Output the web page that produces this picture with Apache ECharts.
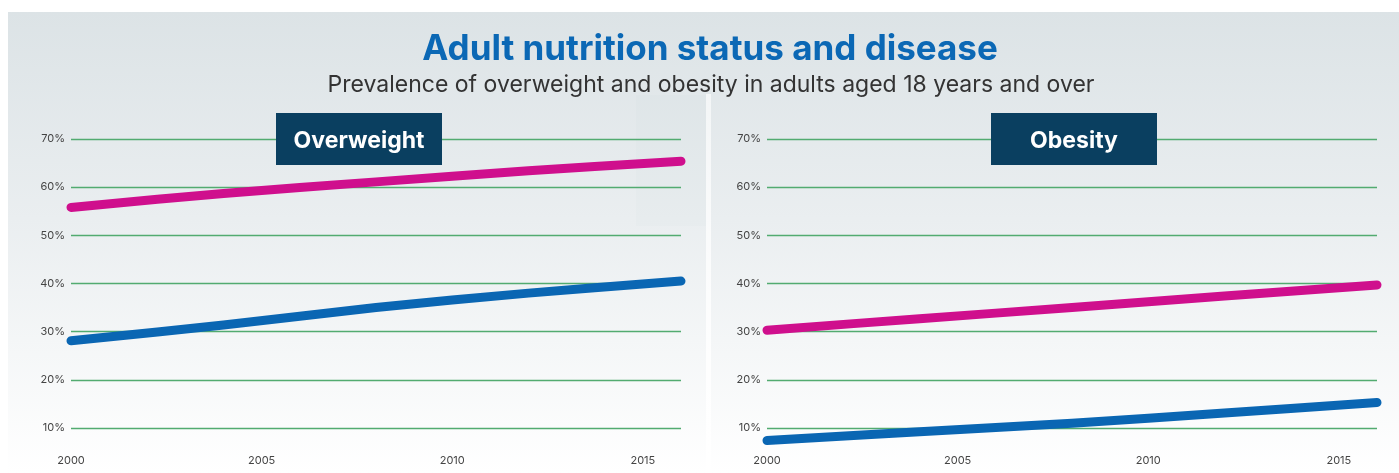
<!DOCTYPE html>
<html>
<head>
<meta charset="utf-8">
<script src="https://cdn.jsdelivr.net/npm/echarts@6/dist/echarts.min.js"></script>
<style>
html,body{margin:0;padding:0;background:#ffffff;}
#chart{width:1399px;height:473px;}
</style>
</head>
<body>
<div id="chart"></div>
<script>
// ---- data ----
var years = [2000, 2004, 2008, 2012, 2016];
var overweightPink = [55.8, 58.7, 61.1, 63.4, 65.4];
var overweightBlue = [28.1, 31.4, 35.0, 38.0, 40.5];
var obesityPink = [30.3, 32.7, 35.0, 37.4, 39.7];
var obesityBlue = [7.4, 9.2, 11.0, 13.1, 15.3];
var xTickLabels = ['2000', '2005', '2010', '2015'];
var yTickValues = [10, 20, 30, 40, 50, 60, 70];
var panelTitles = ['Overweight', 'Obesity'];
var chartTitle = 'Adult nutrition status and disease';
var chartSubtitle = 'Prevalence of overweight and obesity in adults aged 18 years and over';

function pairs(xs, ys) { return xs.map(function (x, i) { return [x, ys[i]]; }); }

var FONT = 'Inter, "Open Sans", sans-serif';
var PINK = '#cf0f8d';
var BLUE = '#0a66b3';
var GRID_GREEN = '#52ab70';

function xAxisCfg(gi) {
  return {
    type: 'value', gridIndex: gi, min: 2000, max: 2016, interval: 5,
    axisLine: {show: false}, axisTick: {show: false}, splitLine: {show: false},
    axisLabel: {
      margin: 27, color: '#444', fontSize: 11, fontFamily: FONT,
      formatter: function (v) { var s = String(v); return xTickLabels.indexOf(s) >= 0 ? s : ''; }
    }
  };
}
function yAxisCfg(gi) {
  return {
    type: 'value', gridIndex: gi,
    min: yTickValues[0], max: yTickValues[yTickValues.length - 1], interval: 10,
    axisLine: {show: false}, axisTick: {show: false},
    splitLine: {show: true, lineStyle: {color: GRID_GREEN, width: 1.3}},
    axisLabel: {
      margin: 6, color: '#444', fontSize: 11, fontFamily: FONT,
      formatter: function (v) { return yTickValues.indexOf(v) >= 0 ? v + '%' : ''; }
    }
  };
}
function lineSeries(xi, data, color) {
  return {
    type: 'line', xAxisIndex: xi, yAxisIndex: xi, data: data,
    showSymbol: false, symbol: 'none', smooth: 0.3, clip: false,
    lineStyle: {color: color, width: 9, cap: 'round', join: 'round'},
    silent: true, animation: false
  };
}
function boxRect(left) {
  return {type: 'rect', z: 10, silent: true,
    shape: {x: left, y: 113, width: 166, height: 52},
    style: {fill: '#0a3f60'}};
}
function boxTitle(cx, label) {
  return {text: label, left: cx, top: 128, textAlign: 'center', z: 20, padding: 0,
    textStyle: {color: '#ffffff', fontSize: 23, fontWeight: 'bold', fontFamily: FONT, lineHeight: 26}};
}

var chart = echarts.init(document.getElementById('chart'), null, {renderer: 'canvas'});
chart.setOption({
  animation: false,
  backgroundColor: '#ffffff',
  title: [
    {text: chartTitle, left: 705, top: 27, textAlign: 'center',
     textStyle: {color: '#0b68b5', fontSize: 35, fontWeight: 'bold', fontFamily: FONT}},
    {text: chartSubtitle, left: 706, top: 69, textAlign: 'center',
     textStyle: {color: '#333333', fontSize: 23, fontWeight: 'normal', fontFamily: FONT}},
    boxTitle(359, panelTitles[0]),
    boxTitle(1074, panelTitles[1])
  ],
  graphic: [
    {type: 'rect', z: -10, silent: true,
     shape: {x: 8, y: 12, width: 1391, height: 461},
     style: {fill: new echarts.graphic.LinearGradient(0, 0, 0, 1, [
       {offset: 0, color: '#dce3e6'},
       {offset: 0.45, color: '#eaeef0'},
       {offset: 1, color: '#ffffff'}
     ])}},
    {type: 'rect', z: -9, silent: true,
     shape: {x: 636, y: 95, width: 70, height: 131},
     style: {fill: 'rgba(40,70,90,0.01)'}},
    {type: 'rect', z: -9, silent: true,
     shape: {x: 706, y: 94, width: 5, height: 379},
     style: {fill: new echarts.graphic.LinearGradient(0, 0, 0, 1, [
       {offset: 0, color: 'rgba(255,255,255,0.6)'},
       {offset: 1, color: 'rgba(255,255,255,1)'}
     ])}},
    boxRect(276),
    boxRect(991)
  ],
  grid: [
    {left: 71, right: 718, top: 139, bottom: 45},
    {left: 767, right: 22, top: 139, bottom: 45}
  ],
  xAxis: [xAxisCfg(0), xAxisCfg(1)],
  yAxis: [yAxisCfg(0), yAxisCfg(1)],
  series: [
    lineSeries(0, pairs(years, overweightPink), PINK),
    lineSeries(0, pairs(years, overweightBlue), BLUE),
    lineSeries(1, pairs(years, obesityPink), PINK),
    lineSeries(1, pairs(years, obesityBlue), BLUE)
  ]
});
</script>
</body>
</html>
